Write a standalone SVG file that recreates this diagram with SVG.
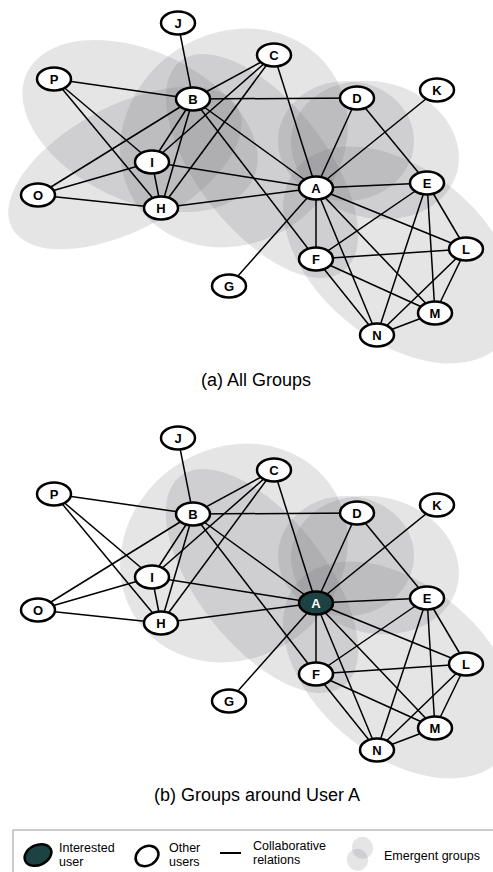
<svg xmlns="http://www.w3.org/2000/svg" width="493" height="872" viewBox="0 0 493 872">
<style>
.grp{fill:#6e7175;fill-opacity:0.18;stroke:none}
.e line{stroke:#000;stroke-width:1.5}
.n ellipse{fill:#fff;stroke:#000;stroke-width:2.5}
.n text{font-family:"Liberation Sans",Arial,sans-serif;font-weight:bold;font-size:13px;text-anchor:middle;fill:#000}
.n.me ellipse{fill:#1d4244}
.n.me text{fill:#fff}
.cap{font-family:"Liberation Sans",Arial,sans-serif;font-size:18px;text-anchor:middle;fill:#000}
.lg{font-family:"Liberation Sans",Arial,sans-serif;font-size:12.5px;fill:#000}
</style>
<rect width="493" height="872" fill="#fff"/>
<!-- (a) All groups -->
<g id="graph-a">
<g id="groups-a">
<ellipse class="grp" cx="140" cy="126" rx="125" ry="75" transform="rotate(25 140 126)"/>
<ellipse class="grp" cx="125" cy="168" rx="128" ry="62" transform="rotate(-28 125 168)"/>
<ellipse class="grp" cx="234" cy="138" rx="118" ry="105" transform="rotate(-35 234 138)"/>
<ellipse class="grp" cx="262" cy="166" rx="133" ry="64" transform="rotate(52 262 166)"/>
<ellipse class="grp" cx="346" cy="141" rx="68" ry="60"/>
<ellipse class="grp" cx="375" cy="150" rx="85" ry="68" transform="rotate(15 375 150)"/>
<ellipse class="grp" cx="400" cy="255" rx="135" ry="85" transform="rotate(40 400 255)"/>
</g>
<g id="edges-a" class="e">
<line x1="178" y1="23" x2="193" y2="99"/>
<line x1="54" y1="79" x2="193" y2="99"/>
<line x1="54" y1="79" x2="152" y2="162"/>
<line x1="54" y1="79" x2="161" y2="208"/>
<line x1="38" y1="195" x2="193" y2="99"/>
<line x1="38" y1="195" x2="152" y2="162"/>
<line x1="38" y1="195" x2="161" y2="208"/>
<line x1="193" y1="99" x2="152" y2="162"/>
<line x1="193" y1="99" x2="161" y2="208"/>
<line x1="152" y1="162" x2="161" y2="208"/>
<line x1="274" y1="55" x2="193" y2="99"/>
<line x1="274" y1="55" x2="152" y2="162"/>
<line x1="274" y1="55" x2="161" y2="208"/>
<line x1="274" y1="55" x2="316" y2="188"/>
<line x1="193" y1="99" x2="357" y2="98"/>
<line x1="193" y1="99" x2="316" y2="188"/>
<line x1="193" y1="99" x2="316" y2="259"/>
<line x1="152" y1="162" x2="316" y2="188"/>
<line x1="161" y1="208" x2="316" y2="188"/>
<line x1="357" y1="98" x2="316" y2="188"/>
<line x1="357" y1="98" x2="427" y2="183"/>
<line x1="437" y1="90" x2="316" y2="188"/>
<line x1="316" y1="188" x2="427" y2="183"/>
<line x1="316" y1="188" x2="316" y2="259"/>
<line x1="316" y1="188" x2="229" y2="286"/>
<line x1="316" y1="188" x2="466" y2="249"/>
<line x1="316" y1="188" x2="435" y2="313"/>
<line x1="316" y1="188" x2="377" y2="335"/>
<line x1="427" y1="183" x2="316" y2="259"/>
<line x1="427" y1="183" x2="377" y2="335"/>
<line x1="427" y1="183" x2="435" y2="313"/>
<line x1="427" y1="183" x2="466" y2="249"/>
<line x1="316" y1="259" x2="466" y2="249"/>
<line x1="316" y1="259" x2="435" y2="313"/>
<line x1="316" y1="259" x2="377" y2="335"/>
<line x1="466" y1="249" x2="377" y2="335"/>
<line x1="466" y1="249" x2="435" y2="313"/>
<line x1="435" y1="313" x2="377" y2="335"/>
</g>
<g id="a-J" class="n"><ellipse cx="178" cy="23" rx="17" ry="11.5"/><text x="178" y="27.7">J</text></g>
<g id="a-P" class="n"><ellipse cx="54" cy="79" rx="17" ry="11.5"/><text x="54" y="83.7">P</text></g>
<g id="a-B" class="n"><ellipse cx="193" cy="99" rx="17" ry="11.5"/><text x="193" y="103.7">B</text></g>
<g id="a-C" class="n"><ellipse cx="274" cy="55" rx="17" ry="11.5"/><text x="274" y="59.7">C</text></g>
<g id="a-D" class="n"><ellipse cx="357" cy="98" rx="17" ry="11.5"/><text x="357" y="102.7">D</text></g>
<g id="a-K" class="n"><ellipse cx="437" cy="90" rx="17" ry="11.5"/><text x="437" y="94.7">K</text></g>
<g id="a-I" class="n"><ellipse cx="152" cy="162" rx="17" ry="11.5"/><text x="152" y="166.7">I</text></g>
<g id="a-O" class="n"><ellipse cx="38" cy="195" rx="17" ry="11.5"/><text x="38" y="199.7">O</text></g>
<g id="a-H" class="n"><ellipse cx="161" cy="208" rx="17" ry="11.5"/><text x="161" y="212.7">H</text></g>
<g id="a-A" class="n"><ellipse cx="316" cy="188" rx="17" ry="11.5"/><text x="316" y="192.7">A</text></g>
<g id="a-E" class="n"><ellipse cx="427" cy="183" rx="17" ry="11.5"/><text x="427" y="187.7">E</text></g>
<g id="a-F" class="n"><ellipse cx="316" cy="259" rx="17" ry="11.5"/><text x="316" y="263.7">F</text></g>
<g id="a-L" class="n"><ellipse cx="466" cy="249" rx="17" ry="11.5"/><text x="466" y="253.7">L</text></g>
<g id="a-G" class="n"><ellipse cx="229" cy="286" rx="17" ry="11.5"/><text x="229" y="290.7">G</text></g>
<g id="a-M" class="n"><ellipse cx="435" cy="313" rx="17" ry="11.5"/><text x="435" y="317.7">M</text></g>
<g id="a-N" class="n"><ellipse cx="377" cy="335" rx="17" ry="11.5"/><text x="377" y="339.7">N</text></g>
</g>
<text class="cap" x="256" y="386">(a) All Groups</text>
<!-- (b) Groups around user A -->
<g id="graph-b" transform="translate(0,415)">
<g id="groups-b">
<ellipse class="grp" cx="234" cy="138" rx="118" ry="105" transform="rotate(-35 234 138)"/>
<ellipse class="grp" cx="262" cy="166" rx="133" ry="64" transform="rotate(52 262 166)"/>
<ellipse class="grp" cx="346" cy="141" rx="68" ry="60"/>
<ellipse class="grp" cx="375" cy="150" rx="85" ry="68" transform="rotate(15 375 150)"/>
<ellipse class="grp" cx="400" cy="255" rx="135" ry="85" transform="rotate(40 400 255)"/>
</g>
<g id="edges-b" class="e">
<line x1="178" y1="23" x2="193" y2="99"/>
<line x1="54" y1="79" x2="193" y2="99"/>
<line x1="54" y1="79" x2="152" y2="162"/>
<line x1="54" y1="79" x2="161" y2="208"/>
<line x1="38" y1="195" x2="193" y2="99"/>
<line x1="38" y1="195" x2="152" y2="162"/>
<line x1="38" y1="195" x2="161" y2="208"/>
<line x1="193" y1="99" x2="152" y2="162"/>
<line x1="193" y1="99" x2="161" y2="208"/>
<line x1="152" y1="162" x2="161" y2="208"/>
<line x1="274" y1="55" x2="193" y2="99"/>
<line x1="274" y1="55" x2="152" y2="162"/>
<line x1="274" y1="55" x2="161" y2="208"/>
<line x1="274" y1="55" x2="316" y2="188"/>
<line x1="193" y1="99" x2="357" y2="98"/>
<line x1="193" y1="99" x2="316" y2="188"/>
<line x1="193" y1="99" x2="316" y2="259"/>
<line x1="152" y1="162" x2="316" y2="188"/>
<line x1="161" y1="208" x2="316" y2="188"/>
<line x1="357" y1="98" x2="316" y2="188"/>
<line x1="357" y1="98" x2="427" y2="183"/>
<line x1="437" y1="90" x2="316" y2="188"/>
<line x1="316" y1="188" x2="427" y2="183"/>
<line x1="316" y1="188" x2="316" y2="259"/>
<line x1="316" y1="188" x2="229" y2="286"/>
<line x1="316" y1="188" x2="466" y2="249"/>
<line x1="316" y1="188" x2="435" y2="313"/>
<line x1="316" y1="188" x2="377" y2="335"/>
<line x1="427" y1="183" x2="316" y2="259"/>
<line x1="427" y1="183" x2="377" y2="335"/>
<line x1="427" y1="183" x2="435" y2="313"/>
<line x1="427" y1="183" x2="466" y2="249"/>
<line x1="316" y1="259" x2="466" y2="249"/>
<line x1="316" y1="259" x2="435" y2="313"/>
<line x1="316" y1="259" x2="377" y2="335"/>
<line x1="466" y1="249" x2="377" y2="335"/>
<line x1="466" y1="249" x2="435" y2="313"/>
<line x1="435" y1="313" x2="377" y2="335"/>
</g>
<g id="b-J" class="n"><ellipse cx="178" cy="23" rx="17" ry="11.5"/><text x="178" y="27.7">J</text></g>
<g id="b-P" class="n"><ellipse cx="54" cy="79" rx="17" ry="11.5"/><text x="54" y="83.7">P</text></g>
<g id="b-B" class="n"><ellipse cx="193" cy="99" rx="17" ry="11.5"/><text x="193" y="103.7">B</text></g>
<g id="b-C" class="n"><ellipse cx="274" cy="55" rx="17" ry="11.5"/><text x="274" y="59.7">C</text></g>
<g id="b-D" class="n"><ellipse cx="357" cy="98" rx="17" ry="11.5"/><text x="357" y="102.7">D</text></g>
<g id="b-K" class="n"><ellipse cx="437" cy="90" rx="17" ry="11.5"/><text x="437" y="94.7">K</text></g>
<g id="b-I" class="n"><ellipse cx="152" cy="162" rx="17" ry="11.5"/><text x="152" y="166.7">I</text></g>
<g id="b-O" class="n"><ellipse cx="38" cy="195" rx="17" ry="11.5"/><text x="38" y="199.7">O</text></g>
<g id="b-H" class="n"><ellipse cx="161" cy="208" rx="17" ry="11.5"/><text x="161" y="212.7">H</text></g>
<g id="b-A" class="n me"><ellipse cx="316" cy="188" rx="17" ry="11.5"/><text x="316" y="192.7">A</text></g>
<g id="b-E" class="n"><ellipse cx="427" cy="183" rx="17" ry="11.5"/><text x="427" y="187.7">E</text></g>
<g id="b-F" class="n"><ellipse cx="316" cy="259" rx="17" ry="11.5"/><text x="316" y="263.7">F</text></g>
<g id="b-L" class="n"><ellipse cx="466" cy="249" rx="17" ry="11.5"/><text x="466" y="253.7">L</text></g>
<g id="b-G" class="n"><ellipse cx="229" cy="286" rx="17" ry="11.5"/><text x="229" y="290.7">G</text></g>
<g id="b-M" class="n"><ellipse cx="435" cy="313" rx="17" ry="11.5"/><text x="435" y="317.7">M</text></g>
<g id="b-N" class="n"><ellipse cx="377" cy="335" rx="17" ry="11.5"/><text x="377" y="339.7">N</text></g>
</g>
<text class="cap" x="257" y="801">(b) Groups around User A</text>
<!-- legend -->
<g id="legend">
<rect x="13" y="830" width="490" height="60" fill="none" stroke="#9a9a9a" stroke-width="1"/>
<ellipse cx="38" cy="855" rx="14" ry="10" transform="rotate(-25 38 855)" fill="#1d4244" stroke="#000" stroke-width="2.5"/>
<text class="lg" x="59" y="852">Interested</text>
<text class="lg" x="59" y="866">user</text>
<ellipse cx="147" cy="856" rx="12" ry="9.5" transform="rotate(-30 147 856)" fill="#fff" stroke="#000" stroke-width="2.5"/>
<text class="lg" x="169" y="852">Other</text>
<text class="lg" x="169" y="866">users</text>
<line x1="220" y1="853" x2="241" y2="853" stroke="#000" stroke-width="2"/>
<text class="lg" x="253" y="850">Collaborative</text>
<text class="lg" x="253" y="864">relations</text>
<rect x="352" y="837" width="21" height="22" rx="10.5" ry="10.5" class="grp" transform="rotate(-20 362 848)"/>
<rect x="347" y="849" width="21" height="22" rx="10.5" ry="10.5" class="grp" transform="rotate(-20 357 860)"/>
<text class="lg" x="384" y="860">Emergent groups</text>
</g>
</svg>
